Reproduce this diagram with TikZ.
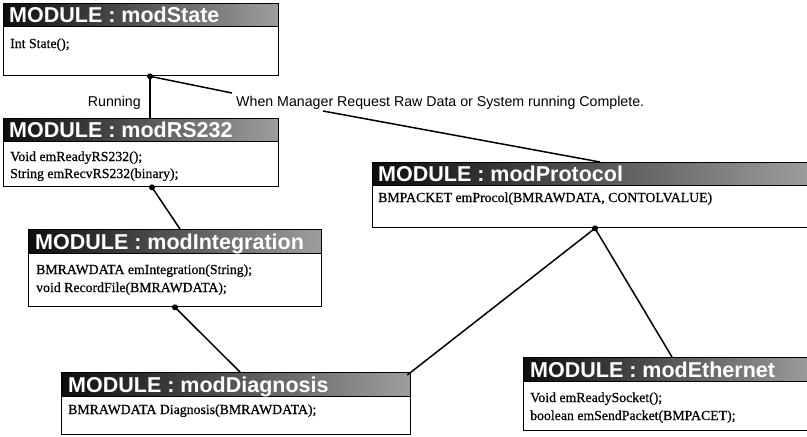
\documentclass[tikz,border=0pt]{standalone}
\usepackage{fontspec}
\setmainfont{Liberation Serif}[FakeBold=0.6]
\newfontfamily\hdrfamily{Liberation Sans}
\newfontfamily\lblfamily{Liberation Sans}
\begin{document}
\begin{tikzpicture}[x=1pt,y=-1pt,
  bodybox/.style={draw=black, line width=1.3pt, fill=white, anchor=north west, inner sep=0pt},
  hdrbox/.style={draw=black, line width=1.3pt, anchor=north west, inner sep=0pt, minimum height=23pt,
    left color=black!95, right color=black!38},
  hdrtext/.style={anchor=base west, inner sep=0pt, text=white, font=\hdrfamily\bfseries\fontsize{21.5}{21.5}\selectfont},
  bodytext/.style={anchor=base west, inner sep=0pt, font=\fontsize{13.8}{15}\selectfont},
  lbl/.style={inner sep=0pt, font=\lblfamily\fontsize{14.2}{16}\selectfont},
  conn/.style={draw=black, line width=1.5pt},
  jdot/.style={circle, fill=black, inner sep=0pt, minimum size=6pt}
]
\useasboundingbox (0,0) rectangle (807,437);
% ---- modState
\node[bodybox, minimum width=275pt, minimum height=72pt] (st) at (3,3) {};
\node[hdrbox, minimum width=275pt] (stH) at (3,3) {};
\node[hdrtext] (stT) at (9,22) {MODULE : modState};
\node[bodytext] (stL1) at (10,48) {Int State();};
% ---- modRS232
\node[bodybox, minimum width=275pt, minimum height=68pt] (rs) at (3,118) {};
\node[hdrbox, minimum width=275pt] (rsH) at (3,118) {};
\node[hdrtext] (rsT) at (9,137) {MODULE : modRS232};
\node[bodytext] (rsL1) at (10,161) {Void emReadyRS232();};
\node[bodytext] (rsL2) at (10,178) {String emRecvRS232(binary);};
% ---- modIntegration
\node[bodybox, minimum width=293pt, minimum height=77pt] (in) at (28,229) {};
\node[hdrbox, minimum width=293pt, minimum height=24pt] (inH) at (28,229) {};
\node[hdrtext] (inT) at (35,249) {MODULE : modIntegration};
\node[bodytext] (inL1) at (36,274) {BMRAWDATA emIntegration(String);};
\node[bodytext] (inL2) at (36,292) {void RecordFile(BMRAWDATA);};
% ---- modProtocol
\node[bodybox, minimum width=440pt, minimum height=65pt] (pr) at (372,162) {};
\node[hdrbox, minimum width=440pt] (prH) at (372,162) {};
\node[hdrtext] (prT) at (378,181) {MODULE : modProtocol};
\node[bodytext] (prL1) at (378,202) {BMPACKET emProcol(BMRAWDATA, CONTOLVALUE)};
% ---- modDiagnosis
\node[bodybox, minimum width=349pt, minimum height=62pt] (dg) at (61,372) {};
\node[hdrbox, minimum width=349pt, minimum height=24pt] (dgH) at (61,372) {};
\node[hdrtext] (dgT) at (68,392) {MODULE : modDiagnosis};
\node[bodytext] (dgL1) at (68,414) {BMRAWDATA Diagnosis(BMRAWDATA);};
% ---- modEthernet
\node[bodybox, minimum width=290pt, minimum height=73pt] (et) at (523,357) {};
\node[hdrbox, minimum width=290pt, minimum height=24pt] (etH) at (523,357) {};
\node[hdrtext] (etT) at (530,377) {MODULE : modEthernet};
\node[bodytext] (etL1) at (530,402) {Void emReadySocket();};
\node[bodytext] (etL2) at (530,420) {boolean emSendPacket(BMPACET);};
% ---- labels
\node[lbl, anchor=base east] (run) at (141,106) {Running};
\node[lbl, anchor=base west] (when) at (236,106) {When Manager Request Raw Data or System running Complete.};
% ---- junctions
\node[jdot] (stDot) at (st.south -| 150,0) {};
\node[jdot] (rsDot) at (rs.south -| 152,0) {};
\node[jdot] (inDot) at (in.south -| 175,0) {};
\node[jdot] (prDot) at (pr.south -| 595,0) {};
\coordinate (whenA) at (232,93);
\coordinate (whenB) at (323,111);
% ---- connectors
\draw[conn] (stDot.center) -- (stDot.center |- rsH.north);
\draw[conn] (stDot.center) -- (whenA);
\draw[conn] (whenB) -- (prH.north -| 600,0);
\draw[conn] (rsDot.center) -- (inH.north -| 180,0);
\draw[conn] (inDot.center) -- (dgH.north -| 240,0);
\draw[conn] (prDot.center) -- ([xshift=-4pt,yshift=-3pt]dgH.north east);
\draw[conn] (prDot.center) -- (etH.north -| 672,0);
\end{tikzpicture}
\end{document}
